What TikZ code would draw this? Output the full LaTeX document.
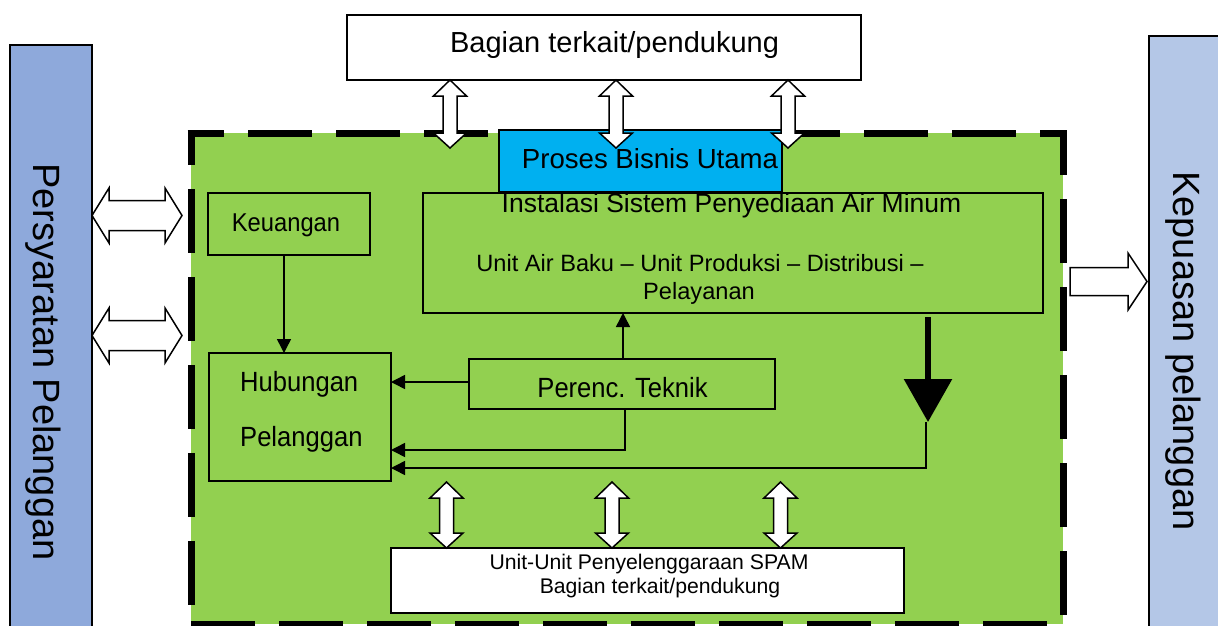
\documentclass[tikz,border=0pt]{standalone}
\usepackage{fontspec}
\setmainfont{Liberation Sans}
\newfontfamily\narrowfont[FakeStretch=0.92]{Liberation Sans}
\usetikzlibrary{arrows.meta}
\definecolor{gfill}{HTML}{92D050}
\definecolor{pbblue}{HTML}{00B0F0}
\definecolor{lblue}{HTML}{8EA9DB}
\definecolor{rblue}{HTML}{B4C7E7}
\newcommand\vdblarrow[3]{% x, y top tip, y bottom tip
  \draw[hollow] (#1,#2) -- (#1+16.5,#2+16) -- (#1+7,#2+16) -- (#1+7,#3-15) -- (#1+16.5,#3-15)
    -- (#1,#3) -- (#1-16.5,#3-15) -- (#1-7,#3-15) -- (#1-7,#2+16) -- (#1-16.5,#2+16) -- cycle;}
\newcommand\hdblarrow[3]{% x left tip, x right tip, y centre
  \draw[hollow] (#1,#3) -- (#1+17,#3-27.5) -- (#1+17,#3-15) -- (#2-17,#3-15) -- (#2-17,#3-27.5)
    -- (#2,#3) -- (#2-17,#3+27.5) -- (#2-17,#3+15) -- (#1+17,#3+15) -- (#1+17,#3+27.5) -- cycle;}
\begin{document}
\begin{tikzpicture}[x=1pt,y=-1pt,
  box/.style={draw=black, line width=1.5pt, rectangle, inner sep=0pt, outer sep=0pt},
  hollow/.style={draw=black, fill=white, line width=1.5pt, line join=miter},
  conn/.style={line width=1.5pt, -{Triangle[length=14pt,width=14pt]}},
  dashb/.style={line width=7pt, dash pattern=on 64pt off 24pt},
  lbl/.style={anchor=base, inner sep=0pt}]
\clip (0,0) rectangle (1218,626);
\fill[white] (0,0) rectangle (1218,626);

% outer side boxes
\node[box, fill=lblue, minimum width=82pt, minimum height=595pt] (req) at (51,342.5) {};
\node[lbl, rotate=-90, font=\fontsize{38}{44}\selectfont] (reqt) at (33.3,362) {Persyaratan Pelanggan};
\node[box, fill=rblue, minimum width=80pt, minimum height=600pt] (sat) at (1189,336) {};
\node[lbl, rotate=-90, font=\fontsize{38}{44}\selectfont] (satt) at (1173,351) {Kepuasan pelanggan};

% top support box
\node[box, fill=white, minimum width=514pt, minimum height=65pt] (top) at (604,47.5) {};
\node[lbl, font=\fontsize{29}{34}\selectfont] (topt) at (614.5,53) {Bagian terkait/pendukung};

% green dashed area
\fill[gfill] (191,133) rectangle (1063,624);
\draw[dashb, dash phase=27.5pt] (187.5,133) -- (1066.5,133);
\draw[dashb, dash phase=32pt] (191,133) -- (191,628);
\draw[dashb, dash phase=22pt] (1063,133) -- (1063,628);
\draw[dashb] (191,624) -- (1063,624);

% main process label
\node[box, fill=pbblue, minimum width=283pt, minimum height=62pt] (pbu) at (640.5,161) {};
\node[lbl, font=\fontsize{27.6}{32}\selectfont] (pbut) at (650,168) {Proses Bisnis Utama};

% installation box
\node[box, minimum width=620pt, minimum height=120pt] (inst) at (733,253) {};
\node[lbl, font=\fontsize{26.5}{30}\selectfont] (instt) at (731.5,212.7) {Instalasi Sistem Penyediaan Air Minum};
\node[lbl, font=\fontsize{23.6}{28}\selectfont] (unitt) at (700,271) {Unit Air Baku – Unit Produksi – Distribusi –};
\node[lbl, font=\fontsize{23.6}{28}\selectfont] (pelt) at (699,299) {Pelayanan};

% Keuangan
\node[box, minimum width=162pt, minimum height=62pt] (keu) at (289,224) {};
\node[lbl, font=\narrowfont\fontsize{25.8}{30}\selectfont] (keut) at (286,231.7) {Keuangan};

% Hubungan Pelanggan
\node[box, minimum width=182pt, minimum height=128pt] (hub) at (300,417) {};
\node[lbl, anchor=base west, font=\narrowfont\fontsize{27.8}{32}\selectfont] (hubt1) at (240,391.7) {Hubungan};
\node[lbl, anchor=base west, font=\narrowfont\fontsize{27.8}{32}\selectfont] (hubt2) at (240,446.5) {Pelanggan};

% Perencanaan Teknik
\node[box, minimum width=306pt, minimum height=50pt] (per) at (622,384) {};
\node[lbl, font=\narrowfont\fontsize{27.8}{32}\selectfont] (pert) at (622.5,397.3) {Perenc. Teknik};

% bottom units box
\node[box, fill=white, minimum width=513pt, minimum height=65pt] (bot) at (647.5,580.5) {};
\node[lbl, font=\fontsize{21.2}{25}\selectfont] (bott1) at (649,569.3) {Unit-Unit Penyelenggaraan SPAM};
\node[lbl, font=\fontsize{21.2}{25}\selectfont] (bott2) at (660,593.3) {Bagian terkait/pendukung};

% helper coordinates
\coordinate (kx) at (284,0);
\coordinate (px) at (623,0);
\coordinate (y1) at (0,382);
\coordinate (y2) at (0,450);
\coordinate (y3) at (0,468);
\coordinate (tk) at (928,422);
\coordinate (tx) at (926,0);

% thin connectors
\draw[conn] (keu.south -| kx) -- (hub.north -| kx);
\draw[conn] (per.north -| px) -- (inst.south -| px);
\draw[conn] (per.west |- y1) -- (hub.east |- y1);
\draw[conn] (per.south -| 625,0) -- (625,450) -- (hub.east |- y2);
\draw[line width=6pt, -{Triangle[length=43pt,width=47pt]}, shorten <=4pt] (inst.south -| tk) -- (tk);
\draw[conn] (tk -| tx) -- (tx |- y3) -- (hub.east |- y3);

% block arrows
\vdblarrow{450}{80}{148}
\vdblarrow{616}{80}{148}
\vdblarrow{788}{80}{148}
\vdblarrow{446.5}{482}{548}
\vdblarrow{612}{482}{548}
\vdblarrow{780.5}{482}{548}
\hdblarrow{92}{182}{215.5}
\hdblarrow{92}{182}{335.5}
\draw[hollow] (1070,267.5) -- (1128,267.5) -- (1128,253) -- (1147,281.5) -- (1128,310) -- (1128,295.5) -- (1070,295.5) -- cycle;
\end{tikzpicture}
\end{document}
